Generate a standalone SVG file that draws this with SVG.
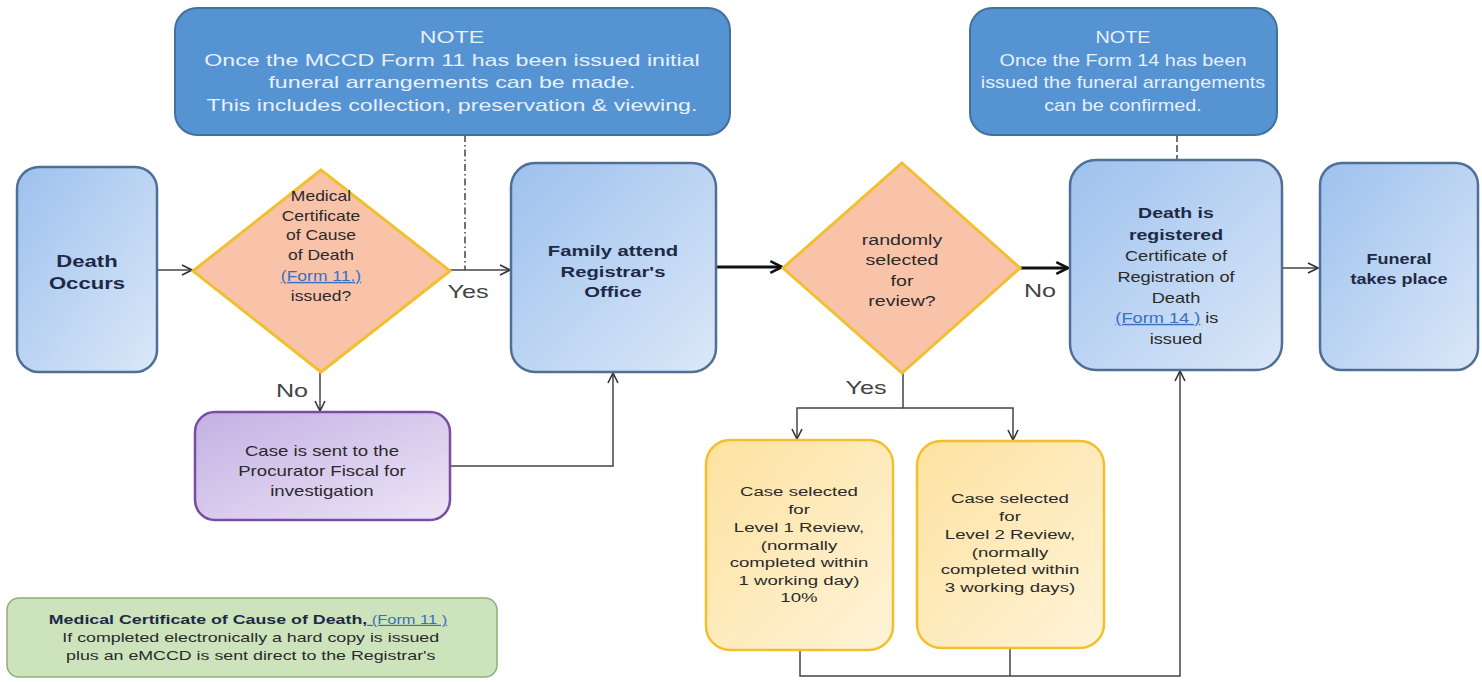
<svg xmlns="http://www.w3.org/2000/svg" width="1482" height="682" viewBox="0 0 1482 682">
<defs>
<linearGradient id="gBlue" x1="0" y1="0" x2="1" y2="1">
<stop offset="0" stop-color="#9dc1ee"/><stop offset="1" stop-color="#dbe8f8"/>
</linearGradient>
<linearGradient id="gPurple" x1="0" y1="0" x2="1" y2="1">
<stop offset="0" stop-color="#c4b0e4"/><stop offset="1" stop-color="#ece5f6"/>
</linearGradient>
<linearGradient id="gYellow" x1="0" y1="0" x2="1" y2="1">
<stop offset="0" stop-color="#fde2a0"/><stop offset="1" stop-color="#fff3d8"/>
</linearGradient>
<marker id="arr" viewBox="0 0 12 12" refX="11" refY="6" markerWidth="12" markerHeight="12" markerUnits="userSpaceOnUse" orient="auto">
<path d="M1,1 L11,6 L1,11" fill="none" stroke="#333" stroke-width="1.6"/>
</marker>
<marker id="arrB" viewBox="0 0 12 12" refX="11" refY="6" markerWidth="14" markerHeight="14" markerUnits="userSpaceOnUse" orient="auto">
<path d="M1,1 L11,6 L1,11" fill="none" stroke="#111" stroke-width="2.2"/>
</marker>
</defs>
<style>
text{font-family:"Liberation Sans",Arial,sans-serif;text-anchor:middle}
.note{fill:#5593d3;stroke:#41719c;stroke-width:2}
.nt{fill:#e8f0fa;font-size:16px}
.blue{fill:url(#gBlue);stroke:#4f6f96;stroke-width:2.5}
.dia{fill:#f9c3aa;stroke:#f0c030;stroke-width:3}
.pur{fill:url(#gPurple);stroke:#7b4ca3;stroke-width:2.5}
.yel{fill:url(#gYellow);stroke:#f3c02c;stroke-width:2.5}
.grn{fill:#cde3bc;stroke:#8daf78;stroke-width:1.5}
.b{font-weight:bold;fill:#1e2a45}
.t{fill:#2a2a2a}
.lnk{fill:#3a6fc0;text-decoration:underline}
.lbl{font-size:18px;fill:#444}
.con{fill:none;stroke:#444;stroke-width:1.5}
.thick{fill:none;stroke:#111;stroke-width:3}
</style>

<g id="connectors">
<line class="con" x1="465" y1="135" x2="465" y2="270" stroke-dasharray="7,3,1.5,3"/>
<line class="con" x1="1177" y1="135" x2="1177" y2="160" stroke-dasharray="7,3"/>
<line class="con" x1="157" y1="270" x2="192" y2="270" marker-end="url(#arr)"/>
<line class="con" x1="450" y1="270" x2="510" y2="270" marker-end="url(#arr)"/>
<line class="thick" x1="716" y1="267" x2="782" y2="267" marker-end="url(#arrB)"/>
<line class="thick" x1="1020" y1="268" x2="1068" y2="268" marker-end="url(#arrB)"/>
<line class="con" x1="1282" y1="268" x2="1318" y2="268" marker-end="url(#arr)"/>
<line class="con" x1="320" y1="372" x2="320" y2="411" marker-end="url(#arr)"/>
<polyline class="con" points="450,466 613,466 613,373" marker-end="url(#arr)"/>
<polyline class="con" points="903,373 903,408 797,408 797,439" marker-end="url(#arr)"/>
<polyline class="con" points="903,408 1013,408 1013,440" marker-end="url(#arr)"/>
<polyline class="con" points="800,650 800,676 1180,676 1180,371" marker-end="url(#arr)"/>
<line class="con" x1="1010" y1="648" x2="1010" y2="676"/>
<text class="lbl" x="468" y="298" transform="matrix(1.4,0,0,1,-187.2,0)">Yes</text>
<text class="lbl" x="1040" y="297" transform="matrix(1.4,0,0,1,-416,0)">No</text>
<text class="lbl" x="292" y="397" transform="matrix(1.4,0,0,1,-116.8,0)">No</text>
<text class="lbl" x="866" y="394" transform="matrix(1.4,0,0,1,-346.4,0)">Yes</text>
</g>

<g id="note1">
<rect class="note" x="175" y="8" width="555" height="127" rx="22"/>
<g transform="matrix(1.45,0,0,1,-203.4,0)">
<text class="nt" x="452" y="43">NOTE</text>
<text class="nt" x="452" y="66">Once the MCCD  Form 11 has been issued initial</text>
<text class="nt" x="452" y="88">funeral arrangements  can be made.</text>
<text class="nt" x="452" y="111">This includes  collection,  preservation &amp; viewing.</text>
</g>
</g>

<g id="note2">
<rect class="note" x="970" y="8" width="307" height="127" rx="22"/>
<g transform="matrix(1.24,0,0,1,-269.52,0)">
<text class="nt" x="1123" y="43">NOTE</text>
<text class="nt" x="1123" y="66">Once the Form  14 has been</text>
<text class="nt" x="1123" y="88">issued the funeral arrangements</text>
<text class="nt" x="1123" y="111">can be confirmed.</text>
</g>
</g>

<g id="death-occurs">
<rect class="blue" x="17" y="167" width="140" height="205" rx="22"/>
<g transform="matrix(1.3,0,0,1,-26.1,0)">
<text class="b" x="87" y="267" font-size="17">Death</text>
<text class="b" x="87" y="289" font-size="17">Occurs</text>
</g>
</g>

<g id="mccd-decision">
<polygon class="dia" points="321,170 450,271 321,372 193,271"/>
<g font-size="14" transform="matrix(1.25,0,0,1,-80.25,0)">
<text class="t" x="321" y="201">Medical</text>
<text class="t" x="321" y="221">Certificate</text>
<text class="t" x="321" y="240">of Cause</text>
<text class="t" x="321" y="260">of Death</text>
<text class="lnk" x="321" y="281">(Form 11.)</text>
<text class="t" x="321" y="301">issued?</text>
</g>
</g>

<g id="family-attend">
<rect class="blue" x="511" y="163" width="205" height="209" rx="24"/>
<g transform="matrix(1.35,0,0,1,-214.55,0)">
<text class="b" x="613" y="256" font-size="15">Family attend</text>
<text class="b" x="613" y="277" font-size="15">Registrar's</text>
<text class="b" x="613" y="297" font-size="15">Office</text>
</g>
</g>

<g id="review-decision">
<polygon class="dia" points="902,163 1020,268 902,373 783,268"/>
<g font-size="14" transform="matrix(1.4,0,0,1,-360.8,0)">
<text class="t" x="902" y="245">randomly</text>
<text class="t" x="902" y="265">selected</text>
<text class="t" x="902" y="286">for</text>
<text class="t" x="902" y="306">review?</text>
</g>
</g>

<g id="death-registered">
<rect class="blue" x="1070" y="160" width="212" height="210" rx="26"/>
<g transform="matrix(1.3,0,0,1,-352.8,0)">
<text class="b" x="1176" y="218" font-size="15">Death is</text>
<text class="b" x="1176" y="240" font-size="15">registered</text>
<g font-size="14">
<text class="t" x="1176" y="261">Certificate of</text>
<text class="t" x="1176" y="282">Registration of</text>
<text class="t" x="1176" y="303">Death</text>
<text x="1169" y="323"><tspan class="lnk">(Form 14 )</tspan><tspan class="t"> is</tspan></text>
<text class="t" x="1176" y="344">issued</text>
</g>
</g>
</g>

<g id="funeral">
<rect class="blue" x="1320" y="163" width="158" height="207" rx="22"/>
<g transform="matrix(1.2,0,0,1,-279.8,0)">
<text class="b" x="1399" y="264" font-size="15">Funeral</text>
<text class="b" x="1399" y="284" font-size="15">takes place</text>
</g>
</g>

<g id="procurator">
<rect class="pur" x="195" y="412" width="255" height="108" rx="20"/>
<g font-size="14" transform="matrix(1.33,0,0,1,-106.26,0)">
<text class="t" x="322" y="456">Case is sent to the</text>
<text class="t" x="322" y="476">Procurator Fiscal for</text>
<text class="t" x="322" y="496">investigation</text>
</g>
</g>

<g id="level1">
<rect class="yel" x="706" y="440" width="187" height="210" rx="24"/>
<g font-size="13.5" transform="matrix(1.38,0,0,1,-303.62,0)">
<text class="t" x="799" y="496">Case selected</text>
<text class="t" x="799" y="514">for</text>
<text class="t" x="799" y="532">Level 1 Review,</text>
<text class="t" x="799" y="550">(normally</text>
<text class="t" x="799" y="567">completed within</text>
<text class="t" x="799" y="585">1 working day)</text>
<text class="t" x="799" y="602">10%</text>
</g>
</g>

<g id="level2">
<rect class="yel" x="917" y="441" width="187" height="207" rx="24"/>
<g font-size="13.5" transform="matrix(1.38,0,0,1,-383.8,0)">
<text class="t" x="1010" y="503">Case selected</text>
<text class="t" x="1010" y="521">for</text>
<text class="t" x="1010" y="539">Level 2 Review,</text>
<text class="t" x="1010" y="557">(normally</text>
<text class="t" x="1010" y="574">completed within</text>
<text class="t" x="1010" y="592">3 working days)</text>
</g>
</g>

<g id="mccd-info">
<rect class="grn" x="7" y="598" width="490" height="79" rx="12"/>
<g font-size="13" transform="matrix(1.37,0,0,1,-91.76,0)">
<text x="248" y="624"><tspan class="b" fill="#222">Medical Certificate of Cause of Death,</tspan><tspan class="lnk" font-size="12"> (Form 11 )</tspan></text>
<text class="t" x="250" y="642">If completed electronically a hard copy is issued</text>
<text class="t" x="250" y="660">plus an eMCCD is sent direct to the Registrar's</text>
</g>
</g>
</svg>
